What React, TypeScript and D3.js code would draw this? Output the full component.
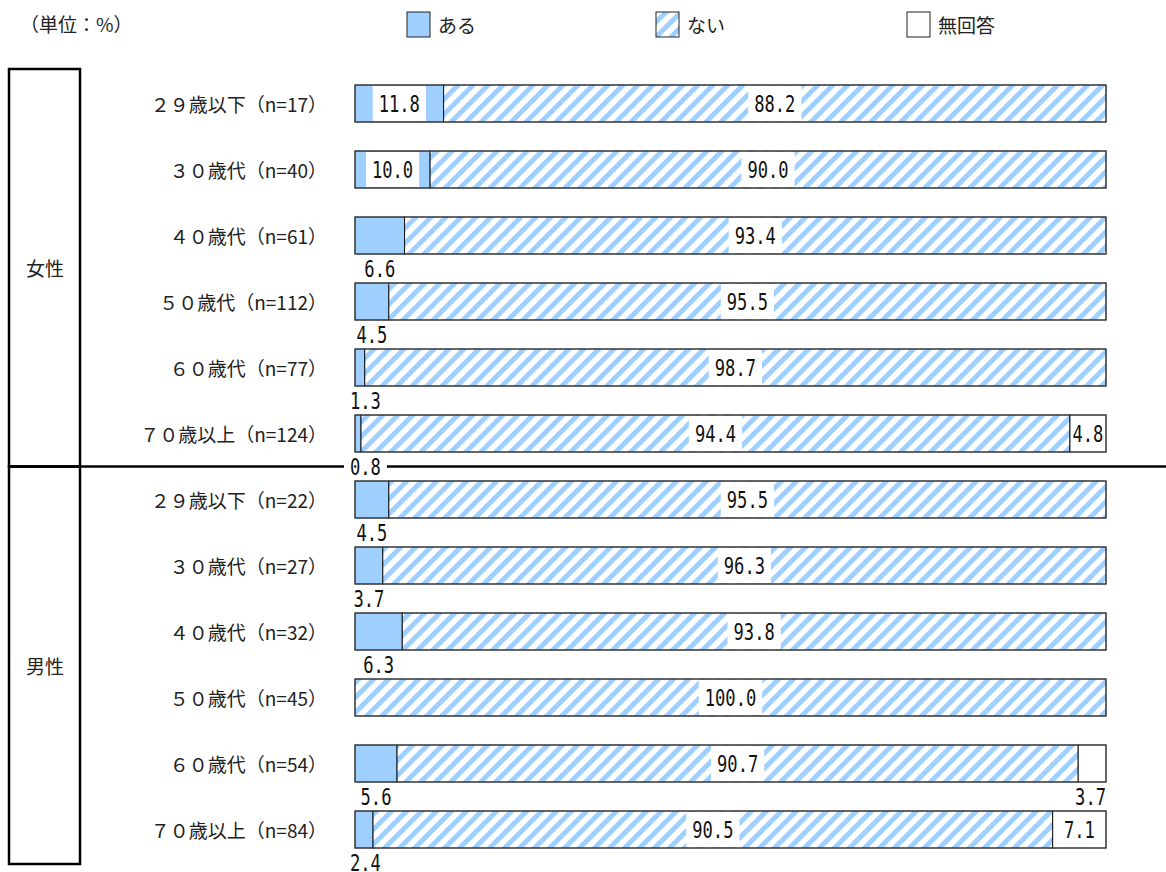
import React from "react";
import * as d3 from "d3";

const groups = ["女性", "男性"];
const categories = [
  "２９歳以下（n=17）", "３０歳代（n=40）", "４０歳代（n=61）", "５０歳代（n=112）", "６０歳代（n=77）", "７０歳以上（n=124）",
  "２９歳以下（n=22）", "３０歳代（n=27）", "４０歳代（n=32）", "５０歳代（n=45）", "６０歳代（n=54）", "７０歳以上（n=84）",
];
const groupOf = [0, 0, 0, 0, 0, 0, 1, 1, 1, 1, 1, 1];
const aru = [11.8, 10.0, 6.6, 4.5, 1.3, 0.8, 4.5, 3.7, 6.3, 0, 5.6, 2.4];
const nai = [88.2, 90.0, 93.4, 95.5, 98.7, 94.4, 95.5, 96.3, 93.8, 100.0, 90.7, 90.5];
const mukaito = [0, 0, 0, 0, 0, 4.8, 0, 0, 0, 0, 3.7, 7.1];
const seriesNames = ["ある", "ない", "無回答"];

const BLUE = "#9fcfff";
const W = 1166;
const H = 872;
const CHAR_W = 10.3;
const NUM_FONT = "'DejaVu Sans Mono', 'Liberation Mono', monospace";
const JP_FONT = "'Noto Sans CJK JP', 'Noto Sans', sans-serif";

function NumLabel({ x, y, text, anchor = "middle", bg = false, bh = 0, minLeft = -Infinity }: any) {
  const tw = text.length * CHAR_W;
  const pad = 6;
  let cx = x;
  if (anchor === "end") cx = x - tw / 2;
  if (anchor === "start") cx = x + tw / 2;
  if (cx - tw / 2 < minLeft) cx = minLeft + tw / 2;
  return (
    <g>
      {bg && <rect x={cx - tw / 2 - pad} y={y - bh / 2} width={tw + pad * 2} height={bh} fill="#fff" />}
      <text
        x={cx}
        y={y}
        textAnchor="middle"
        dominantBaseline="central"
        fontFamily={NUM_FONT}
        fontSize={23}
        textLength={tw}
        lengthAdjust="spacingAndGlyphs"
        fill="#111"
      >
        {text}
      </text>
    </g>
  );
}

export default function App() {
  const x = d3.scaleLinear().domain([0, 100]).range([355, 1106]);
  const y = d3
    .scaleBand<number>()
    .domain(d3.range(categories.length))
    .range([85, 848])
    .paddingInner(29 / 66)
    .paddingOuter(0);
  const bw = y.bandwidth();

  const sepY = ((y(5) as number) + bw + (y(6) as number)) / 2;
  const topY = (y(0) as number) - 16;
  const botY = (y(11) as number) + bw + 16;

  const rows = categories.map((c, i) => {
    const total = aru[i] + nai[i] + mukaito[i];
    const vals = [aru[i], nai[i], mukaito[i]].map((v) => (v * 100) / total);
    let acc = 0;
    const segs = vals.map((v, k) => {
      const s = { k, x0: x(acc), x1: x(acc + v), raw: [aru[i], nai[i], mukaito[i]][k] };
      acc += v;
      return s;
    });
    return { c, i, segs };
  });

  const legendX = [407, 656, 907];

  return (
    <svg width={W} height={H} style={{ display: "block", position: "absolute", left: 0, top: 0 }}>
      <defs>
        <pattern id="hatch" patternUnits="userSpaceOnUse" width={10.6} height={10.6} patternTransform="rotate(45)">
          <rect width={10.6} height={10.6} fill="#fff" />
          <rect x={0} width={5} height={10.6} fill={BLUE} />
        </pattern>
      </defs>
      <rect width={W} height={H} fill="#fff" />

      <text x={20} y={23} dominantBaseline="central" fontFamily={JP_FONT} fontSize={19} fill="#222">
        （単位：%）
      </text>

      {seriesNames.map((s, k) => (
        <g key={s}>
          <rect
            x={legendX[k]}
            y={12}
            width={23}
            height={25}
            fill={k === 0 ? BLUE : k === 1 ? "url(#hatch)" : "#fff"}
            stroke="#222"
            strokeWidth={1}
          />
          <text x={legendX[k] + 31} y={24} dominantBaseline="central" fontFamily={JP_FONT} fontSize={19} fill="#222">
            {s}
          </text>
        </g>
      ))}

      <rect x={9} y={topY} width={71} height={sepY - topY} fill="none" stroke="#000" strokeWidth={2.5} />
      <rect x={9} y={sepY} width={71} height={botY - sepY} fill="none" stroke="#000" strokeWidth={2.5} />
      <line x1={9} x2={W} y1={sepY} y2={sepY} stroke="#000" strokeWidth={2.5} />
      {groups.map((g, gi) => {
        const cy = gi === 0 ? (topY + sepY) / 2 : (sepY + botY) / 2;
        return (
          <text key={g} x={45} y={cy} textAnchor="middle" dominantBaseline="central" fontFamily={JP_FONT} fontSize={19} fill="#222">
            {g}
          </text>
        );
      })}

      {rows.map(({ c, i, segs }) => {
        const y0 = y(i) as number;
        const cy = y0 + bw / 2;
        return (
          <g key={i}>
            <text x={327} y={cy} textAnchor="end" dominantBaseline="central" fontFamily={JP_FONT} fontSize={19} fill="#222">
              {c}
            </text>
            {segs.map((s) =>
              s.raw > 0 ? (
                <rect
                  key={s.k}
                  x={s.x0}
                  y={y0}
                  width={s.x1 - s.x0}
                  height={bw}
                  fill={s.k === 0 ? BLUE : s.k === 1 ? "url(#hatch)" : "#fff"}
                  stroke="#111"
                  strokeWidth={1}
                />
              ) : null
            )}
            <rect x={x(0)} y={y0} width={x(100) - x(0)} height={bw} fill="none" stroke="#444" strokeWidth={1} />
            {segs.map((s) => {
              if (s.raw <= 0) return null;
              const text = s.raw.toFixed(1);
              const tw = text.length * CHAR_W;
              const w = s.x1 - s.x0;
              if (s.k === 1) {
                return <NumLabel key={s.k} x={(s.x0 + s.x1) / 2} y={cy} text={text} bg bh={bw - 2} />;
              }
              if (s.k === 0) {
                if (w >= tw + 24) {
                  return <NumLabel key={s.k} x={(s.x0 + s.x1) / 2} y={cy} text={text} bg bh={bw - 2} />;
                }
                return <NumLabel key={s.k} x={(s.x0 + s.x1) / 2} y={y0 + bw + 15} text={text} bg bh={18} minLeft={350} />;
              }
              if (w >= tw + 4) {
                return <NumLabel key={s.k} x={(s.x0 + s.x1) / 2} y={cy} text={text} />;
              }
              return <NumLabel key={s.k} x={s.x1} y={y0 + bw + 15} text={text} anchor="end" bg bh={18} />;
            })}
          </g>
        );
      })}
    </svg>
  );
}
